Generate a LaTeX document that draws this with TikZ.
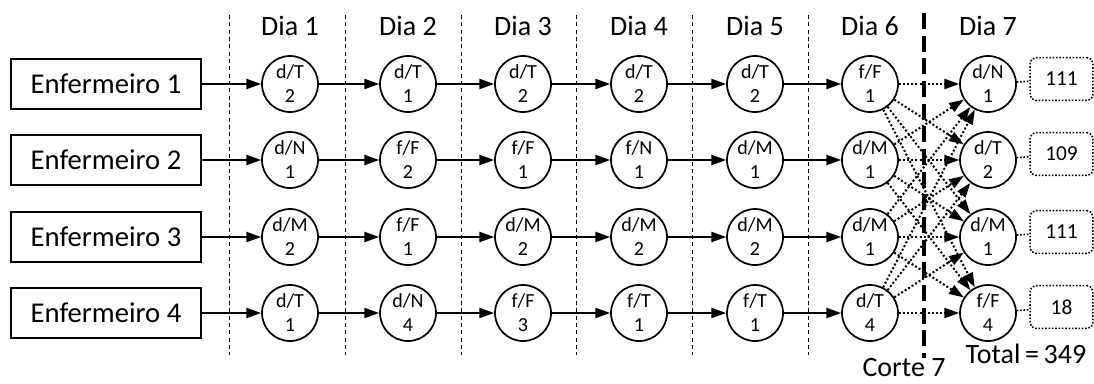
\documentclass[tikz,border=0pt]{standalone}
\usepackage{fontspec}
\setmainfont{Carlito}
\usetikzlibrary{arrows.meta}
\begin{document}
\begin{tikzpicture}[x=0.75pt,y=-0.75pt,
  st/.style={circle,draw,line width=1.3pt,minimum size=42pt,inner sep=0pt,align=center,font=\fontsize{15}{18}\selectfont},
  nurse/.style={draw,line width=1.3pt,minimum width=142.5pt,minimum height=37.5pt,inner sep=0pt,font=\fontsize{21.5}{24}\selectfont},
  lab/.style={draw,rounded corners=4pt,line width=1.2pt,dash pattern=on 1.2pt off 1.3pt,minimum width=47pt,minimum height=32pt,inner sep=0pt,font=\fontsize{16}{18}\selectfont},
  arr/.style={line width=1.5pt,-{Triangle[length=11pt,width=7.5pt]}},
  darr/.style={arr,dash pattern=on 1.5pt off 1.6pt},
  sep/.style={line width=0.75pt,dash pattern=on 3pt off 2.5pt},
  cut/.style={line width=3pt,dash pattern=on 12pt off 5pt},
  daylab/.style={anchor=base,font=\fontsize{21}{24}\selectfont},
  bigtxt/.style={anchor=base,font=\fontsize{21}{24}\selectfont}
]
\useasboundingbox (0,0) rectangle (1094,383);
% separators
\foreach \x in {229,345,461,576,692,808}
  \draw[sep] (\x,15) -- (\x,355);
\draw[cut] (924,13) -- (924,358);
% day labels
\foreach \x/\d in {290/1,408/2,523/3,639/4,755/5,870/6,988/7}
  \node[daylab] (day\d) at (\x,35) {Dia \d};
% nurses
\foreach \r/\y in {1/84,2/160,3/237,4/313}
  \node[nurse] (n\r) at (106,\y) {Enfermeiro \r};
% states
\foreach \r/\y/\lst in {
  1/84/{d/T/2,d/T/1,d/T/2,d/T/2,d/T/2,f/F/1,d/N/1},
  2/160/{d/N/1,f/F/2,f/F/1,f/N/1,d/M/1,d/M/1,d/T/2},
  3/237/{d/M/2,f/F/1,d/M/2,d/M/2,d/M/2,d/M/1,d/M/1},
  4/313/{d/T/1,d/N/4,f/F/3,f/T/1,f/T/1,d/T/4,f/F/4}}{
  \foreach \a/\b/\c [count=\k] in \lst {
    \pgfmathsetmacro{\xx}{{290,408,523,639,755,870,988}[\k-1]}
    \node[st] (c\r-\k) at (\xx,\y) {\a/\b\\\c};
  }
}
% labels
\foreach \r/\y/\v in {1/79/111,2/154/109,3/232/111,4/307/18}{
  \node[lab] (l\r) at (1061.5,\y) {\v};
  \draw[line width=1.2pt,dash pattern=on 1.2pt off 1.3pt] (c\r-7) -- (l\r);
}
% arrows
\foreach \r in {1,2,3,4}{
  \draw[arr] (n\r) -- (c\r-1);
  \foreach \k [evaluate=\k as \kn using int(\k+1)] in {1,...,5}
    \draw[arr] (c\r-\k) -- (c\r-\kn);
  \foreach \s in {1,2,3,4}
    \draw[darr] (c\r-6) -- (c\s-7);
}
\node[bigtxt] (total) at (1026,363) {Total\,=\,349};
\node[bigtxt] (corte) at (904,376) {Corte 7};
\end{tikzpicture}
\end{document}
